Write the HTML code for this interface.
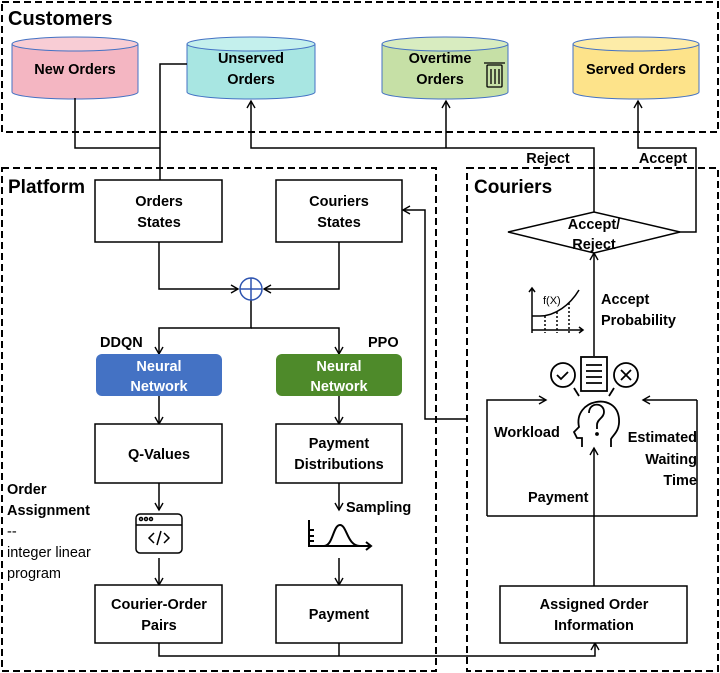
<!DOCTYPE html>
<html><head><meta charset="utf-8"><style>body{margin:0;background:#fff}svg{display:block}text{font-family:"Liberation Sans",sans-serif;font-size:14.5px;font-weight:bold;fill:#000}</style></head><body>
<svg width="720" height="673" viewBox="0 0 720 673" xmlns="http://www.w3.org/2000/svg">
<defs><marker id="a" markerWidth="10" markerHeight="10" refX="8" refY="5" orient="auto" markerUnits="userSpaceOnUse"><path d="M1,1 L8,5 L1,9" fill="none" stroke="#000" stroke-width="1.4"/></marker></defs>
<g fill="none" stroke="#000" stroke-width="2" stroke-dasharray="7,4">
<rect x="2" y="2" width="716" height="130"/>
<rect x="2" y="168" width="434" height="503"/>
<rect x="467" y="168" width="251" height="503"/>
</g>
<text x="8" y="25" style="font-size:20px">Customers</text>
<text x="8" y="193" style="font-size:19px">Platform</text>
<text x="474" y="193" style="font-size:19px">Couriers</text>
<g stroke="#4472c4" stroke-width="1">
<path d="M12,44 v48 a63,7 0 0 0 126,0 v-48" fill="#f4b6c2"/><ellipse cx="75" cy="44" rx="63" ry="7" fill="#f8cdd5"/>
<path d="M187,44 v48 a64,7 0 0 0 128,0 v-48" fill="#a8e6e2"/><ellipse cx="251" cy="44" rx="64" ry="7" fill="#c4f0ed"/>
<path d="M382,44 v48 a63,7 0 0 0 126,0 v-48" fill="#c6e0a6"/><ellipse cx="445" cy="44" rx="63" ry="7" fill="#d8ecc0"/>
<path d="M573,44 v48 a63,7 0 0 0 126,0 v-48" fill="#fde38a"/><ellipse cx="636" cy="44" rx="63" ry="7" fill="#fdeca8"/>
</g>
<text x="75" y="74" text-anchor="middle">New Orders</text>
<text x="251" y="63" text-anchor="middle">Unserved</text><text x="251" y="84" text-anchor="middle">Orders</text>
<text x="440" y="63" text-anchor="middle">Overtime</text><text x="440" y="84" text-anchor="middle">Orders</text>
<g fill="none" stroke="#000" stroke-width="1.3"><rect x="487" y="65" width="15" height="22" rx="1"/><line x1="484" y1="63" x2="505" y2="63"/><line x1="491" y1="69" x2="491" y2="84"/><line x1="495" y1="69" x2="495" y2="84"/><line x1="499" y1="69" x2="499" y2="84"/></g>
<text x="636" y="74" text-anchor="middle">Served Orders</text>
<g fill="none" stroke="#000" stroke-width="1.5">
<path d="M75,98 V148 H160"/>
<path d="M187,64 H160 V190" marker-end="url(#a)"/>
<path d="M594,213 V148 H251 V101" marker-end="url(#a)"/>
<path d="M446,148 V101" marker-end="url(#a)"/>
<path d="M678,232 H696 V148 H638 V101" marker-end="url(#a)"/>
<path d="M159,242 V289 H238" marker-end="url(#a)"/>
<path d="M339,242 V289 H264" marker-end="url(#a)"/>
<path d="M251,300 V328 H159 V354" marker-end="url(#a)"/>
<path d="M251,328 H339 V354" marker-end="url(#a)"/>
<path d="M159,396 V424" marker-end="url(#a)"/>
<path d="M339,396 V424" marker-end="url(#a)"/>
<path d="M159,483 V510" marker-end="url(#a)"/>
<path d="M159,558 V585" marker-end="url(#a)"/>
<path d="M339,483 V510" marker-end="url(#a)"/>
<path d="M339,558 V585" marker-end="url(#a)"/>
<path d="M159,643 V656 H595 V643" marker-end="url(#a)"/>
<path d="M339,643 V656"/>
<path d="M467,419 H425 V210 H403" marker-end="url(#a)"/>
<path d="M594,586 V448" marker-end="url(#a)"/>
<path d="M594,356 V253" marker-end="url(#a)"/>
<path d="M487,516 V400 H546" marker-end="url(#a)"/>
<path d="M697,400 H643" marker-end="url(#a)"/>
<path d="M697,400 V516 H487"/>
</g>
<text x="548" y="163" text-anchor="middle">Reject</text>
<text x="663" y="163" text-anchor="middle">Accept</text>
<circle cx="251" cy="289" r="11" fill="#fff" stroke="#2e54b0" stroke-width="1.5"/>
<path d="M240,289 H262 M251,278 V300" stroke="#2e54b0" stroke-width="1.5"/>
<g fill="#fff" stroke="#000" stroke-width="1.5">
<rect x="95" y="180" width="127" height="62"/><rect x="276" y="180" width="126" height="62"/>
<rect x="95" y="424" width="127" height="59"/><rect x="276" y="424" width="126" height="59"/>
<rect x="95" y="585" width="127" height="58"/><rect x="276" y="585" width="126" height="58"/>
<rect x="500" y="586" width="187" height="57"/>
</g>
<rect x="96" y="354" width="126" height="42" rx="6" fill="#4472c4"/>
<rect x="276" y="354" width="126" height="42" rx="6" fill="#4e8a2a"/>
<text x="159" y="206" text-anchor="middle">Orders</text><text x="159" y="227" text-anchor="middle">States</text>
<text x="339" y="206" text-anchor="middle">Couriers</text><text x="339" y="227" text-anchor="middle">States</text>
<text x="100" y="347">DDQN</text><text x="368" y="347">PPO</text>
<text x="159" y="371" text-anchor="middle" style="fill:#fff">Neural</text><text x="159" y="391" text-anchor="middle" style="fill:#fff">Network</text>
<text x="339" y="371" text-anchor="middle" style="fill:#fff">Neural</text><text x="339" y="391" text-anchor="middle" style="fill:#fff">Network</text>
<text x="159" y="459" text-anchor="middle">Q-Values</text>
<text x="339" y="448" text-anchor="middle">Payment</text><text x="339" y="469" text-anchor="middle">Distributions</text>
<text x="346" y="512">Sampling</text>
<text x="159" y="609" text-anchor="middle">Courier-Order</text><text x="159" y="630" text-anchor="middle">Pairs</text>
<text x="339" y="619" text-anchor="middle">Payment</text>
<text x="594" y="609" text-anchor="middle">Assigned Order</text><text x="594" y="630" text-anchor="middle">Information</text>
<text x="7" y="494">Order</text><text x="7" y="515">Assignment</text>
<text x="7" y="536" style="font-weight:normal">--</text><text x="7" y="557" style="font-weight:normal">integer linear</text><text x="7" y="578" style="font-weight:normal">program</text>
<g fill="none" stroke="#000" stroke-width="1.5"><rect x="136" y="514" width="46" height="39" rx="4"/><line x1="136" y1="525" x2="182" y2="525"/><circle cx="141" cy="519" r="1.5"/><circle cx="146" cy="519" r="1.5"/><circle cx="151" cy="519" r="1.5"/><path d="M154,533 L149,538 L154,543 M164,533 L169,538 L164,543 M161,531 L157,545"/></g>
<g fill="none" stroke="#000" stroke-width="2"><path d="M309,520 V546 H371"/><path d="M366,542 L371,546 L366,550"/><path d="M309,530 h5 M309,536 h5 M309,541 h5"/><path d="M324,546 C333,546 333,525 340,525 C347,525 347,546 360,546"/></g>
<polygon points="508,232 594,212 680,232 594,253" fill="#fff" stroke="#000" stroke-width="1.5"/>
<text x="594" y="229" text-anchor="middle">Accept/</text><text x="594" y="249" text-anchor="middle">Reject</text>
<text x="601" y="304">Accept</text><text x="601" y="325">Probability</text>
<g fill="none" stroke="#000" stroke-width="1.5"><path d="M532,333 V288 M529,292 L532,288 L535,292 M532,330 H583 M579,327 L583,330 L579,333 M532,316 H540 C555,316 570,305 579,290"/><path d="M545,316 V333 M557,312 V333 M569,303 V333" stroke-dasharray="2,2"/></g>
<text x="543" y="304" style="font-size:11px;font-weight:normal">f(X)</text>
<g fill="none" stroke="#000" stroke-width="1.8">
<circle cx="563" cy="375" r="12"/><path d="M557,375 l4,4 l7,-7"/>
<rect x="581" y="357" width="26" height="34"/><path d="M586,365 h16 M586,371 h16 M586,377 h16 M586,383 h16"/>
<circle cx="626" cy="375" r="12"/><path d="M621,370 l10,10 M631,370 l-10,10"/>
<path d="M574,388 l5,8 M614,388 l-5,8"/>
<path d="M582,447 v-9 h-5 l-3,-6 l5,-5 c-6,-28 38,-36 40,-8 c1,12 -6,16 -8,20 v8"/>
<path d="M589,413 c0,-11 15,-11 15,-1 c0,6 -7,7 -7,13 v4"/><circle cx="597" cy="434" r="1" fill="#000"/>
</g>
<text x="494" y="437">Workload</text>
<text x="697" y="442" text-anchor="end">Estimated</text><text x="697" y="464" text-anchor="end">Waiting</text><text x="697" y="485" text-anchor="end">Time</text>
<text x="528" y="502">Payment</text>
</svg>
</body></html>
